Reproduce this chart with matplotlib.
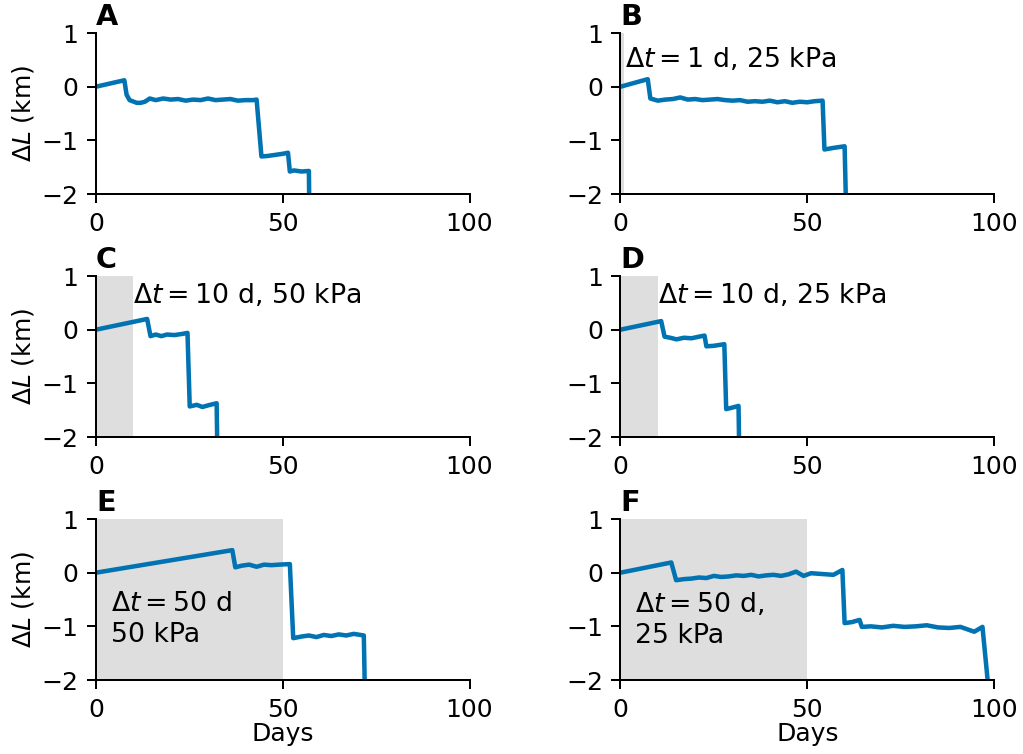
import matplotlib
matplotlib.use("Agg")
import matplotlib.pyplot as plt

# glacier length change for six forcing scenarios
days_a = [0, 7.6, 8.2, 9, 10.9, 12, 13.1, 14.4, 16, 18, 20, 22, 24, 26, 28, 30, 32, 34, 36, 38, 40, 42,
          43.0, 44.3, 46, 48, 50, 51.4, 51.9, 53, 55, 57.0, 57.1]
dl_a = [0, 0.12, -0.15, -0.25, -0.30, -0.30, -0.28, -0.22, -0.25, -0.22, -0.24, -0.23, -0.26, -0.24,
        -0.25, -0.22, -0.25, -0.24, -0.23, -0.26, -0.25, -0.25, -0.24, -1.30, -1.29, -1.27, -1.25,
        -1.23, -1.58, -1.56, -1.58, -1.57, -2.3]

days_b = [0, 7.3, 8.0, 10, 12, 14, 16, 18, 20, 22, 24, 26, 28, 30, 32, 34, 36, 38, 40, 42, 44, 46, 48,
          50, 52, 54.1, 54.6, 57, 60, 60.4]
dl_b = [0, 0.14, -0.22, -0.26, -0.24, -0.23, -0.20, -0.24, -0.23, -0.25, -0.24, -0.23, -0.25, -0.26,
        -0.25, -0.28, -0.27, -0.28, -0.26, -0.29, -0.27, -0.30, -0.28, -0.29, -0.27, -0.26, -1.17,
        -1.14, -1.11, -2.3]

days_c = [0, 13.7, 14.6, 16, 17.5, 19, 21, 23, 24.5, 25.1, 27, 28.5, 30, 32.3, 32.5]
dl_c = [0, 0.20, -0.12, -0.09, -0.12, -0.09, -0.10, -0.08, -0.06, -1.43, -1.40, -1.44, -1.41, -1.37, -2.3]

days_d = [0, 10.9, 11.8, 13.3, 15, 17, 19, 21, 22.5, 23.0, 25, 27.8, 28.3, 30, 31.6, 31.8]
dl_d = [0, 0.16, -0.13, -0.15, -0.18, -0.15, -0.16, -0.13, -0.11, -0.31, -0.30, -0.27, -1.48, -1.45,
        -1.42, -2.3]

days_e = [0, 36.5, 37.3, 39, 41, 43, 45, 47, 49, 51.9, 52.8, 55, 57, 59, 61, 63, 65, 67, 69, 71.7, 72.0]
dl_e = [0, 0.42, 0.10, 0.13, 0.15, 0.11, 0.15, 0.14, 0.15, 0.16, -1.22, -1.19, -1.17, -1.20, -1.16,
        -1.18, -1.15, -1.17, -1.14, -1.17, -2.3]

days_f = [0, 13.6, 14.9, 17, 19, 21, 23, 25, 27, 29, 31, 33, 35, 37, 39, 41, 43, 45, 47, 49, 51, 53, 55,
          57, 59.4, 60.0, 62, 64, 64.6, 67, 70, 73, 76, 79, 82, 85, 88, 91, 94.7, 96.9, 98.7]
dl_f = [0, 0.19, -0.14, -0.12, -0.11, -0.09, -0.10, -0.06, -0.08, -0.07, -0.05, -0.06, -0.04, -0.07,
        -0.05, -0.04, -0.06, -0.03, 0.02, -0.06, -0.01, -0.02, -0.03, -0.04, 0.05, -0.94, -0.92, -0.88,
        -1.01, -1.00, -1.02, -0.99, -1.01, -1.00, -0.98, -1.02, -1.03, -1.01, -1.10, -1.01, -2.3]

panels = ["A", "B", "C", "D", "E", "F"]
all_days = [days_a, days_b, days_c, days_d, days_e, days_f]
all_dl = [dl_a, dl_b, dl_c, dl_d, dl_e, dl_f]
shade_end = [None, 1, 10, 10, 50, 50]
notes = [None,
         r"$\Delta t = 1$ d, 25 kPa",
         r"$\Delta t = 10$ d, 50 kPa",
         r"$\Delta t = 10$ d, 25 kPa",
         "$\\Delta t = 50$ d\n50 kPa",
         "$\\Delta t = 50$ d,\n25 kPa"]
note_pos = [None, (1.2, 0.5), (10, 0.63), (10, 0.63), (4, -0.88), (4, -0.88)]

fig, axes = plt.subplots(3, 2, figsize=(1023 / 180, 754 / 180), dpi=180)
fig.subplots_adjust(left=0.0938, right=0.9717, top=0.9562, bottom=0.0981,
                    wspace=0.404, hspace=0.509)

for i, ax in enumerate(axes.flat):
    if shade_end[i] is not None:
        ax.axvspan(0, shade_end[i], color="#dedede", lw=0, zorder=0)
    ax.plot(all_days[i], all_dl[i], color="#0173b2", lw=1.8)
    ax.set_xlim(0, 100)
    ax.set_ylim(-2, 1)
    ax.set_xticks([0, 50, 100])
    ax.set_yticks([-2, -1, 0, 1])
    ax.spines["top"].set_visible(False)
    ax.spines["right"].set_visible(False)
    ax.text(0.0, 1.015, panels[i], transform=ax.transAxes, fontweight="bold",
            fontsize=11.5, ha="left", va="bottom")
    if notes[i] is not None:
        ax.text(note_pos[i][0], note_pos[i][1], notes[i], ha="left", va="center",
                fontsize=10.7, linespacing=1.25)
    if i % 2 == 0:
        ax.set_ylabel(r"$\Delta L$ (km)", labelpad=2)
    if i >= 4:
        ax.set_xlabel("Days", labelpad=0)

fig.savefig("out.png", dpi=180)
